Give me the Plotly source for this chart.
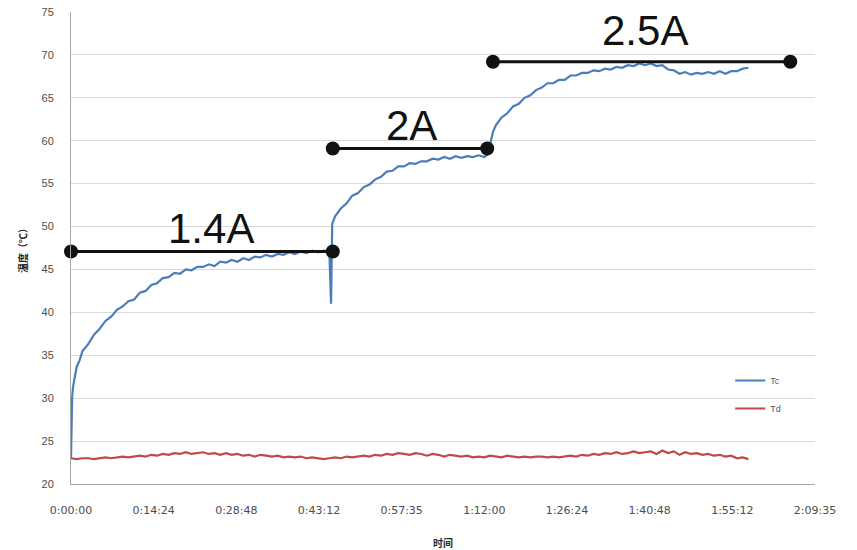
import plotly.graph_objects as go

# ---------------- data ----------------
tc_time = [0, 0.1, 0.2, 0.35, 0.6, 1, 1.5, 2, 3, 4, 5, 6, 7, 8, 9, 10, 11, 12, 13, 14, 15,
           16, 17, 18, 19, 20, 21, 22, 23, 24, 25, 26, 27, 28, 29, 30, 31, 32, 33, 34, 35,
           36, 37, 38, 39, 40, 41, 42, 43, 44, 45, 45.3, 45.5,
           46, 47, 48, 49, 50, 51, 52, 53, 54, 55, 56, 57, 58, 59, 60, 61, 62, 63, 64, 65,
           66, 67, 68, 69, 70, 71, 72, 72.6, 73.0, 73.5,
           74, 75, 76, 77, 78, 79, 80, 81, 82, 83, 84, 85, 86, 87, 88, 89, 90, 91, 92, 93,
           94, 95, 96, 97, 98, 99, 100, 101, 102, 103, 104, 105, 106, 107, 108, 109, 110,
           111, 112, 113, 114, 115, 116, 117, 118]
tc_vals = [23.0, 28.5, 30.1, 31.3, 32.2, 33.7, 34.4, 35.5, 36.3, 37.4, 38.1, 39.0, 39.5, 40.3,
           40.7, 41.3, 41.5, 42.3, 42.5, 43.2, 43.4, 44.0, 44.1, 44.6, 44.5, 45.0, 44.9, 45.3,
           45.3, 45.6, 45.4, 45.9, 45.8, 46.1, 45.9, 46.3, 46.1, 46.5, 46.4, 46.7, 46.5, 46.8,
           46.7, 47.0, 46.8, 47.1, 46.9, 47.2, 47.0, 47.2, 47.1, 41.0, 50.3,
           51.2, 52.1, 52.7, 53.6, 53.9, 54.6, 54.9, 55.5, 55.8, 56.4, 56.5, 57.0, 57.0, 57.4,
           57.3, 57.6, 57.6, 57.9, 57.8, 58.1, 57.9, 58.2, 58.0, 58.2, 58.1, 58.3, 58.1, 58.4,
           59.6, 61.0,
           61.8, 62.7, 63.2, 64.0, 64.3, 65.0, 65.3, 65.9, 66.2, 66.7, 66.7, 67.1, 67.1, 67.6,
           67.6, 67.9, 67.9, 68.2, 68.1, 68.4, 68.3, 68.6, 68.5, 68.8, 68.7, 69.0, 68.8, 69.0,
           68.7, 68.8, 68.3, 68.2, 67.8, 68.0, 67.7, 67.9, 67.8, 68.0, 67.8, 68.1, 67.8, 68.1,
           68.1, 68.4, 68.5]

td_time = list(range(0, 119))
td_vals = [23.0, 22.9, 23.0, 23.0, 22.9, 23.0, 23.1, 23.0, 23.1, 23.2, 23.1, 23.2, 23.3, 23.2,
           23.4, 23.3, 23.5, 23.4, 23.6, 23.5, 23.7, 23.5, 23.6, 23.7, 23.5, 23.6, 23.4, 23.6,
           23.4, 23.5, 23.3, 23.4, 23.2, 23.4, 23.3, 23.2, 23.3, 23.1, 23.2, 23.1, 23.2, 23.0,
           23.1, 23.0, 22.9, 23.0, 23.1, 23.0, 23.2, 23.1, 23.2, 23.3, 23.2, 23.4, 23.3, 23.5,
           23.4, 23.6, 23.5, 23.4, 23.6, 23.5, 23.3, 23.5, 23.4, 23.2, 23.4, 23.3, 23.2, 23.3,
           23.1, 23.2, 23.1, 23.3, 23.2, 23.1, 23.3, 23.2, 23.1, 23.2, 23.1, 23.2, 23.2, 23.1,
           23.2, 23.1, 23.2, 23.3, 23.2, 23.4, 23.3, 23.5, 23.4, 23.6, 23.5, 23.7, 23.5, 23.6,
           23.8, 23.6, 23.7, 23.8, 23.5, 23.9, 23.6, 23.8, 23.4, 23.7, 23.5, 23.6, 23.4, 23.5,
           23.3, 23.4, 23.2, 23.3, 23.0, 23.1, 22.9]

seg_labels = ["1.4A", "2A", "2.5A"]
seg_start = [0, 45.6, 73.5]
seg_end = [45.6, 72.5, 125.3]
seg_level = [47.1, 59.1, 69.2]

x_ticktext = ["0:00:00", "0:14:24", "0:28:48", "0:43:12", "0:57:35",
              "1:12:00", "1:26:24", "1:40:48", "1:55:12", "2:09:35"]
x_step = 14.4  # minutes
series_names = ["Tc", "Td"]

# label pixel nudges (style only)
label_shift = {"1.4A": (9, -3), "2A": (2, -3), "2.5A": (3, 6)}

# ---------------- figure ----------------
fig = go.Figure()
fig.add_trace(go.Scatter(x=tc_time, y=tc_vals, mode="lines", name=series_names[0],
                         line=dict(color="#4a7ebb", width=2.2), legendgroup="a"))
fig.add_trace(go.Scatter(x=td_time, y=td_vals, mode="lines", name=series_names[1],
                         line=dict(color="#be4b48", width=2.2), legendgroup="b"))

for lab, s, e, lv in zip(seg_labels, seg_start, seg_end, seg_level):
    fig.add_trace(go.Scatter(x=[s, e], y=[lv, lv], mode="lines+markers", showlegend=False,
                             line=dict(color="#111111", width=3),
                             marker=dict(color="#111111", size=14), cliponaxis=False,
                             hoverinfo="skip"))
    dx, dy = label_shift[lab]
    fig.add_annotation(x=(s + e) / 2, y=lv, text=lab, showarrow=False, yanchor="bottom",
                       xshift=dx, yshift=dy,
                       font=dict(family="Liberation Sans", size=42, color="#111111"))

xtickfont = dict(family="DejaVu Sans", size=11, color="#4d4d4d")
ytickfont = dict(family="Liberation Sans", size=11, color="#4d4d4d")
fig.update_layout(
    width=857, height=550,
    margin=dict(l=71, r=42, t=12, b=66, autoexpand=False),
    paper_bgcolor="white", plot_bgcolor="white",
    showlegend=True,
    legend=dict(x=0.886, y=0.25, xanchor="left", yanchor="top",
                font=dict(family="Liberation Sans", size=9, color="#595959"),
                bgcolor="rgba(0,0,0,0)", tracegroupgap=9, traceorder="grouped"),
    xaxis=dict(range=[0, x_step * (len(x_ticktext) - 1)],
               tickvals=[i * x_step for i in range(len(x_ticktext))],
               ticktext=x_ticktext, tickfont=xtickfont, showgrid=False,
               showline=True, linecolor="#a6a6a6", linewidth=1, ticks="",
               ticklabelstandoff=16, zeroline=False, automargin=False,
               title=dict(text="<b>时间</b>", standoff=23,
                          font=dict(family="Noto Sans CJK SC", size=10, color="#262626"))),
    yaxis=dict(range=[20, 75], dtick=5, tickfont=ytickfont, showgrid=True,
               gridcolor="#d9d9d9", gridwidth=1, showline=True, linecolor="#a6a6a6",
               linewidth=1, ticks="", ticklabelstandoff=14, zeroline=False, automargin=False,
               title=dict(text="<b>温度（℃）</b>", standoff=12,
                          font=dict(family="Noto Sans CJK SC", size=10, color="#262626"))),
)

fig.write_html("out.html", config={"displayModeBar": False},
               post_script="document.body.style.margin='0';")
